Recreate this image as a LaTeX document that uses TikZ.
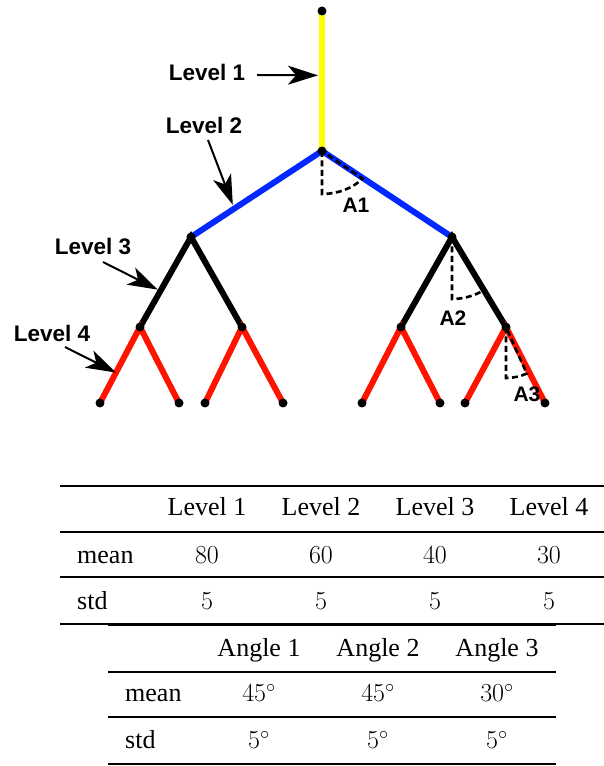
\documentclass[tikz,border=0pt]{standalone}
\usepackage{fix-cm}
\usepackage{fontspec}
\newfontfamily\labelfont{Liberation Sans}
\newfontfamily\tabfont{Liberation Serif}
\usetikzlibrary{arrows.meta,calc,backgrounds}
\definecolor{lvlyellow}{RGB}{255,255,0}
\definecolor{lvlblue}{RGB}{0,40,255}
\definecolor{lvlred}{RGB}{255,20,0}

\begin{document}
\begin{tikzpicture}[
    x=1pt, y=1pt,
    dot/.style={circle, fill=black, inner sep=0pt, minimum size=9pt},
    branch/.style={line width=6pt},
    lvllabel/.style={font=\labelfont\bfseries\fontsize{22.5}{26}\selectfont, inner sep=0pt},
    anglabel/.style={font=\labelfont\bfseries\fontsize{21}{24}\selectfont, inner sep=0pt},
    anglemark/.style={line width=2.6pt, dash pattern={on 6pt off 3.5pt}},
    arr/.style={-{Stealth[length=30pt, width=19pt, inset=8pt]}, line width=2pt},
    cell/.style={font=\tabfont\fontsize{26}{31}\selectfont, anchor=base, inner sep=0pt},
    rowlab/.style={cell, anchor=base west},
    heavyrule/.style={line width=2pt},
    lightrule/.style={line width=1.2pt}
  ]
  \useasboundingbox (0,0) rectangle (604,766);

  % Tree: dots
  \node[dot] (n0) at (322,755) {};
  \node[dot] (n1) at (322,615) {};
  \node[dot] (n2L) at (191,529) {};
  \node[dot] (n2R) at (452,529) {};
  \node[dot] (n3LL) at (140,439) {};
  \node[dot] (n3LR) at (242,439) {};
  \node[dot] (n3RL) at (401,439) {};
  \node[dot] (n3RR) at (506,439) {};
  \foreach \x [count=\i] in {100,179,205,283,362,440,465,545}
    \node[dot] (l\i) at (\x,363) {};

  % Tree: branches
  \begin{scope}[on background layer]
    \draw[branch, lvlyellow] (n0.center) -- (n1.center);
    \draw[branch, lvlblue] (n2L.center) -- (n1.center) -- (n2R.center);
    \draw[branch, black] (n3LL.center) -- (n2L.center) -- (n3LR.center);
    \draw[branch, black] (n3RL.center) -- (n2R.center) -- (n3RR.center);
    \foreach \a/\b/\c in {n3LL/l1/l2, n3LR/l3/l4, n3RL/l5/l6, n3RR/l7/l8}
      \draw[branch, lvlred] (\b.center) -- (\a.center) -- (\c.center);
  \end{scope}

  % Angles
  \draw[anglemark] (n1.center) -- ++(0,-43)
    arc[start angle=-90, end angle=-40, x radius=53, y radius=43] -- (n1.center);
  \draw[anglemark] (n2R.center) -- ++(0,-62)
    arc[start angle=-90, end angle=-59, radius=62] -- (n2R.center);
  \draw[anglemark] (n3RR.center) -- ++(0,-51)
    arc[start angle=-90, end angle=-66, radius=51] -- (n3RR.center);
  \node[anglabel] (a1) at (356,561) {A1};
  \node[anglabel] (a2) at (453,448) {A2};
  \node[anglabel] (a3) at (527,372) {A3};

  % Level labels
  \node[lvllabel] (lab1) at (207,694) {Level 1};
  \node[lvllabel] (lab2) at (204,641) {Level 2};
  \node[lvllabel] (lab3) at (93,520) {Level 3};
  \node[lvllabel] (lab4) at (52,433) {Level 4};
  \coordinate (t1) at (257,691);
  \coordinate (t2) at (208,626);
  \coordinate (t3) at (103,504);
  \coordinate (t4) at (65,419);
  \coordinate (p1) at ($(n0)!0.46!(n1)$);
  \coordinate (p2) at ($(n1)!0.67!(n2L)$);
  \coordinate (p3) at ($(n2L)!0.6!(n3LL)$);
  \coordinate (p4) at ($(n3LL)!0.6!(l1)$);
  \draw[arr, shorten >=4pt] (t1) -- (p1);
  \draw[arr, shorten >=4pt] (t2) -- (p2);
  \draw[arr, shorten >=3pt] (t3) -- (p3);
  \draw[arr] (t4) -- (p4);

  % Table of lengths
  \draw[heavyrule] (60,280) -- (604,280);
  \draw[lightrule] (60,234) -- (604,234);
  \draw[lightrule] (60,189) -- (604,189);
  \draw[heavyrule] (60,142) -- (604,142);
  \foreach \x [count=\i] in {207,321,435,549}
    \node[cell] (lv\i) at (\x,250) {Level \i};
  \node[rowlab] (lmean) at (77,202.5) {mean};
  \node[rowlab] (lstd) at (77,156.5) {std};
  \foreach \v/\x [count=\i] in {80/207,60/321,40/435,30/549}
    \node[cell] (lm\i) at (\x,202.5) {$\v$};
  \foreach \x [count=\i] in {207,321,435,549}
    \node[cell] (ls\i) at (\x,156.5) {$5$};

  % Table of angles
  \draw[heavyrule] (108,141) -- (556,141);
  \draw[lightrule] (108,94) -- (556,94);
  \draw[lightrule] (108,49) -- (556,49);
  \draw[heavyrule] (108,2) -- (556,2);
  \foreach \x [count=\i] in {259,378,497}
    \node[cell] (an\i) at (\x,109) {Angle \i};
  \node[rowlab] (amean) at (125,64.5) {mean};
  \node[rowlab] (astd) at (125,17.5) {std};
  \foreach \v/\x [count=\i] in {45/259,45/378,30/497}
    \node[cell] (am\i) at (\x,64.5) {$\v^\circ$};
  \foreach \x [count=\i] in {259,378,497}
    \node[cell] (as\i) at (\x,17.5) {$5^\circ$};
\end{tikzpicture}
\end{document}
